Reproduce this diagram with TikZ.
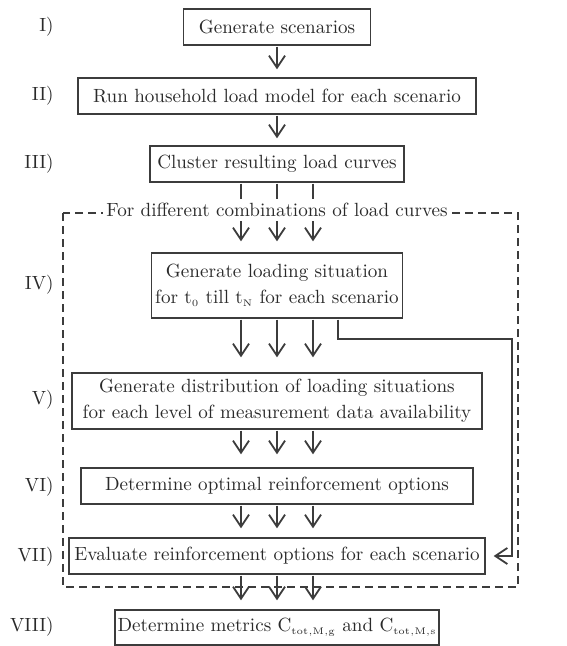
\documentclass[tikz,border=0pt]{standalone}
\usetikzlibrary{arrows.meta}
\definecolor{ink}{HTML}{3C3C3C}
\definecolor{txtink}{HTML}{2A2A2A}
\newcommand{\ssub}[2]{$\mathrm{#1}_{\scriptscriptstyle\mathrm{#2}}$}
\tikzset{
  txt/.style={text=txtink, scale=1.91, font=\fontsize{10}{13.5}\selectfont},
  box/.style={txt, draw=ink, line width=1.8pt, inner sep=0pt, align=center},
  lab/.style={txt, anchor=east, inner sep=0pt},
  ln/.style={draw=ink, line width=1.8pt},
  arr/.style={ln, -{Straight Barb[length=12pt,width=16pt]}, shorten >=7pt},
  frame/.style={draw=ink, line width=1.8pt, dash pattern=on 8pt off 5pt},
}
\begin{document}
\begin{tikzpicture}[x=1pt,y=-1pt]
\useasboundingbox (0,0) rectangle (566,646);
% boxes
\node[box, minimum width=187/1.91, minimum height=36/1.91] (I) at (277,27) {Generate scenarios};
\node[box, minimum width=398/1.91, minimum height=36/1.91] (II) at (277,96) {Run household load model for each scenario};
\node[box, minimum width=254/1.91, minimum height=36/1.91] (III) at (277,164) {Cluster resulting load curves};
\node[box, minimum width=251/1.91, minimum height=65/1.91] (IV) at (277,285.5) {Generate loading situation\\for \ssub{t}{0} till \ssub{t}{N} for each scenario};
\node[box, minimum width=410/1.91, minimum height=56/1.91] (V) at (277,401) {Generate distribution of loading situations\\for each level of measurement data availability};
\node[box, minimum width=392/1.91, minimum height=36/1.91] (VI) at (277,486) {Determine optimal reinforcement options};
\node[box, minimum width=416/1.91, minimum height=36/1.91] (VII) at (277,556) {Evaluate reinforcement options for each scenario};
\node[box, minimum width=324/1.91, minimum height=35/1.91] (VIII) at (277,627.5) {Determine metrics \ssub{C}{tot,M,g} and \ssub{C}{tot,M,s}};
% dashed frame and its label
\draw[frame] (63,213) rectangle (518,587);
\node[txt, fill=white, inner sep=2pt] (lbl) at (277,210) {For different combinations of load curves};
% step labels
\node[lab] (lI) at (54,27) {I)};
\node[lab] (lII) at (54,96) {II)};
\node[lab] (lIII) at (54,164) {III)};
\node[lab] (lIV) at (54,285) {IV)};
\node[lab] (lV) at (54,400) {V)};
\node[lab] (lVI) at (54,487) {VI)};
\node[lab] (lVII) at (54,557) {VII)};
\node[lab] (lVIII) at (54,627) {VIII)};
% connectors
\draw[arr] (I.south) -- (II.north);
\draw[arr, shorten >=6pt] (II.south) -- (III.north);
\foreach \d in {-36,0,36} {
  \draw[ln] ([xshift=\d]III.south) -- ([xshift=\d]III.south |- lbl.north);
  \draw[arr, shorten >=10pt] ([xshift=\d]lbl.south -| III.south) -- ([xshift=\d]IV.north);
  \draw[arr, shorten >=14pt] ([xshift=\d]IV.south) -- ([xshift=\d]V.north);
  \draw[arr, shorten >=12pt] ([xshift=\d]V.south) -- ([xshift=\d]VI.north);
  \draw[arr, shorten >=8pt] ([xshift=\d]VI.south) -- ([xshift=\d]VII.north);
  \draw[arr, shorten >=8pt] ([xshift=\d]VII.south) -- ([xshift=\d]VIII.north);
}
\draw[arr] ([xshift=61]IV.south) -- ++(0,19) -| ([xshift=25]VII.east) -- (VII.east);
\end{tikzpicture}
\end{document}
